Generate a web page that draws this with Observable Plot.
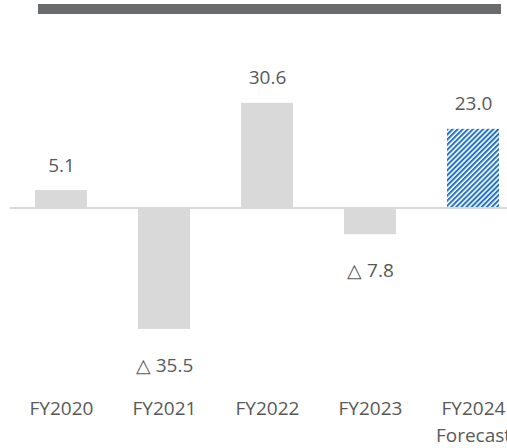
<!DOCTYPE html>
<html><head><meta charset="utf-8">
<script src="https://cdn.jsdelivr.net/npm/d3@7"></script>
<script src="https://cdn.jsdelivr.net/npm/@observablehq/plot@0.6"></script>
<style>
html,body{margin:0;padding:0;background:#fff;overflow:hidden;}
#wrap{position:relative;width:507px;height:448px;overflow:hidden;}
#topbar{position:absolute;left:38px;top:4px;width:463px;height:10px;background:#6a6b6d;}
#chart{position:absolute;left:0;top:0;width:530px;}
#chart svg{max-width:none !important;}
</style></head><body>
<div id="wrap"><div id="chart"></div><div id="topbar"></div></div>
<script>
const categories = ["FY2020","FY2021","FY2022","FY2023","FY2024"];
const subLabels = ["","","","","Forecast"];
const values = [5.1,-35.5,30.6,-7.8,23.0];
const forecast = [false,false,false,false,true];

const data = categories.map((c,i)=>({cat:c, value:values[i], forecast:forecast[i], tick: subLabels[i] ? c + "\n" + subLabels[i] : c}));
const fmt = v => v < 0 ? "△ " + Math.abs(v).toFixed(1) : v.toFixed(1);
const tickText = new Map(data.map(d=>[d.cat, d.tick]));

const plot = Plot.plot({
  width: 530, height: 448,
  marginLeft: 10, marginRight: 5, marginTop: 36.5, marginBottom: 103.7,
  style: {fontFamily: "'Open Sans', sans-serif", background: "#fff", overflow: "visible", maxWidth: "none"},
  x: {domain: categories, paddingInner: 0.494, paddingOuter: 0.232, label: null},
  y: {domain: [-40, 50], axis: null},
  marks: [
    Plot.barY(data.filter(d=>!d.forecast), {x:"cat", y:"value", fill:"#d9d9d9"}),
    Plot.barY(data.filter(d=>d.forecast), {x:"cat", y:"value", fill:"url(#hatch)"}),
    Plot.ruleY([0], {stroke:"#d9d9d9", strokeWidth:2}),
    Plot.text(data.filter(d=>d.value>=0), {x:"cat", y:"value", text: d=>fmt(d.value), dy:-25, fontSize:19, fill:"#595959"}),
    Plot.text(data.filter(d=>d.value<0), {x:"cat", y:"value", text: d=>fmt(d.value), dy:36, fontSize:19, fill:"#595959"}),
    Plot.axisX({tickSize:0, tickPadding:51, tickFormat: c=>tickText.get(c), fontSize:19, color:"#595959", lineHeight:1.42, label:null})
  ]
});
const ns = "http://www.w3.org/2000/svg";
const defs = document.createElementNS(ns, "defs");
defs.innerHTML = '<pattern id="hatch" patternUnits="userSpaceOnUse" width="3.6" height="10" patternTransform="rotate(45)"><rect width="3.6" height="10" fill="#fff"/><rect width="2" height="10" fill="#2272c8"/></pattern>';
plot.insertBefore(defs, plot.firstChild);
document.getElementById("chart").appendChild(plot);
</script>
</body></html>
